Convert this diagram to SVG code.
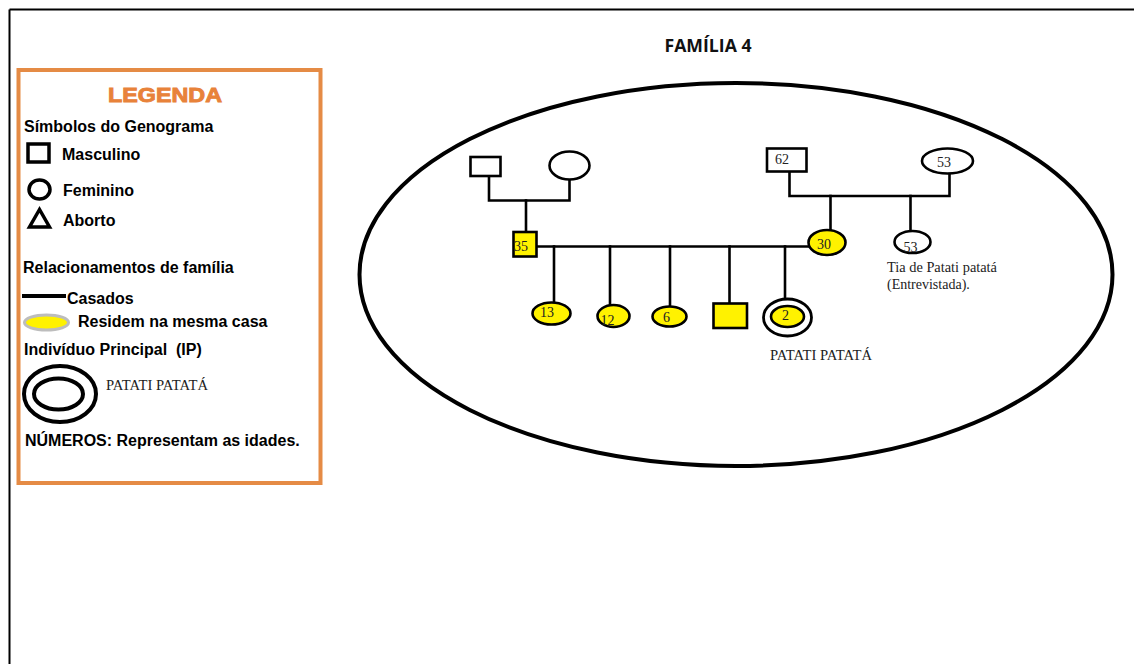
<svg xmlns="http://www.w3.org/2000/svg" width="1134" height="664" viewBox="0 0 1134 664">
  <style>
    .lg { font-family: "Liberation Sans", Arial, sans-serif; font-weight: bold; font-size: 16px; fill: #000; }
    .sf { font-family: "Liberation Serif", "Times New Roman", serif; font-size: 14px; fill: #222; }
    .num { font-family: "Liberation Serif", "Times New Roman", serif; font-size: 14px; fill: #222; }
    .ln { stroke: #000; stroke-width: 2.6; fill: none; stroke-linecap: square; }
    .nd { stroke: #000; stroke-width: 2.6; fill: #fff; }
    .res { stroke: #000; stroke-width: 2.6; fill: #FFF200; }
  </style>

  <rect width="1134" height="664" fill="#fff"/>

  <!-- page frame: top and left edges only -->
  <g id="frame">
    <line x1="9.5" y1="9.5" x2="1134" y2="9.5" stroke="#000" stroke-width="2"/>
    <line x1="9.5" y1="9.5" x2="9.5" y2="664" stroke="#000" stroke-width="2"/>
  </g>

  <!-- legend panel -->
  <g id="legend">
    <rect x="18.5" y="70" width="302" height="413" fill="#fff" stroke="#E58B45" stroke-width="4"/>
    <text x="165" y="102" text-anchor="middle" font-family="'Liberation Sans', Arial, sans-serif" font-weight="900" font-size="20" fill="#E8823A" stroke="#E8823A" stroke-width="0.9" textLength="114" lengthAdjust="spacingAndGlyphs">LEGENDA</text>
    <text class="lg" x="24" y="132">Símbolos do Genograma</text>

    <rect x="28" y="144" width="21" height="18" fill="none" stroke="#000" stroke-width="3.5"/>
    <text class="lg" x="62" y="160">Masculino</text>

    <ellipse cx="39.5" cy="189.5" rx="10.5" ry="9.5" fill="none" stroke="#000" stroke-width="3.5"/>
    <text class="lg" x="63" y="196">Feminino</text>

    <polygon points="39.5,209.5 29.5,227 49.5,227" fill="none" stroke="#000" stroke-width="3.5" stroke-linejoin="miter"/>
    <text class="lg" x="63" y="226">Aborto</text>

    <text class="lg" x="23" y="273">Relacionamentos de família</text>

    <line x1="22" y1="296" x2="66" y2="296" stroke="#000" stroke-width="4"/>
    <text class="lg" x="67" y="304">Casados</text>

    <ellipse cx="46.5" cy="322.5" rx="22" ry="7.5" fill="#FFF200" stroke="#BDBDBD" stroke-width="3"/>
    <text class="lg" x="78" y="327">Residem na mesma casa</text>

    <text class="lg" x="24" y="355" style="white-space:pre">Indivíduo Principal  (IP)</text>

    <ellipse cx="60" cy="394" rx="36" ry="28" fill="none" stroke="#000" stroke-width="4"/>
    <ellipse cx="58.5" cy="394" rx="24.5" ry="15.5" fill="none" stroke="#000" stroke-width="4"/>
    <text class="sf" x="106" y="390" textLength="102" lengthAdjust="spacingAndGlyphs">PATATI PATATÁ</text>

    <text class="lg" x="25" y="446">NÚMEROS: Representam as idades.</text>
  </g>

  <!-- title -->
  <g id="title">
    <text x="708" y="52" text-anchor="middle" font-family="'Open Sans', 'Liberation Sans', sans-serif" font-weight="bold" font-size="17" fill="#111" textLength="87" lengthAdjust="spacingAndGlyphs">FAMÍLIA 4</text>
  </g>

  <!-- household boundary -->
  <g id="household">
    <ellipse cx="736" cy="274.5" rx="376.5" ry="191.5" fill="none" stroke="#000" stroke-width="4"/>
  </g>

  <!-- connectors -->
  <g id="connectors">
    <!-- paternal grandparents -->
    <polyline class="ln" points="489,176 489,200.5 569.5,200.5 569.5,179.5"/>
    <line class="ln" x1="526" y1="200.5" x2="526" y2="231.5"/>
    <!-- maternal grandparents -->
    <polyline class="ln" points="789.5,171.5 789.5,196 949.5,196 949.5,173.5"/>
    <line class="ln" x1="830.5" y1="196" x2="830.5" y2="229.5"/>
    <line class="ln" x1="910.5" y1="196" x2="910.5" y2="230.5"/>
    <!-- parents -->
    <line class="ln" x1="537" y1="246.5" x2="808" y2="246.5"/>
    <!-- children -->
    <line class="ln" x1="554" y1="246.5" x2="554" y2="302.5"/>
    <line class="ln" x1="610" y1="246.5" x2="610" y2="305"/>
    <line class="ln" x1="670" y1="246.5" x2="670" y2="306.5"/>
    <line class="ln" x1="729.5" y1="246.5" x2="729.5" y2="315"/>
    <line class="ln" x1="785" y1="246.5" x2="785" y2="306"/>
  </g>

  <!-- grandparents, father's side -->
  <g id="gf-paternal">
    <rect class="nd" x="470.5" y="157" width="30" height="19"/>
  </g>
  <g id="gm-paternal">
    <ellipse class="nd" cx="569.5" cy="165.5" rx="20" ry="14"/>
  </g>

  <!-- grandparents, mother's side -->
  <g id="gf-maternal">
    <rect class="nd" x="767" y="148.5" width="39.5" height="23"/>
    <text class="num" x="775" y="164">62</text>
  </g>
  <g id="gm-maternal">
    <ellipse class="nd" cx="947.5" cy="161" rx="25.5" ry="12.5"/>
    <text class="num" x="937" y="167">53</text>
  </g>

  <!-- parents -->
  <g id="father">
    <rect class="res" x="513.5" y="232" width="23" height="24.5"/>
    <text class="num" x="514" y="251">35</text>
  </g>
  <g id="mother">
    <ellipse class="res" cx="827" cy="242.5" rx="18.5" ry="12.5"/>
    <text class="num" x="817" y="248.5">30</text>
  </g>

  <!-- aunt -->
  <g id="aunt">
    <ellipse class="nd" cx="912.5" cy="242" rx="18" ry="11"/>
    <text class="num" x="903.5" y="252">53</text>
    <text class="sf" x="887" y="272" font-size="12.5" textLength="110" lengthAdjust="spacingAndGlyphs">Tia de Patati patatá</text>
    <text class="sf" x="887" y="288.5" font-size="12.5">(Entrevistada).</text>
  </g>

  <!-- children -->
  <g id="child-13">
    <ellipse class="res" cx="551.5" cy="313.5" rx="19" ry="11"/>
    <text class="num" x="540" y="317">13</text>
  </g>
  <g id="child-12">
    <ellipse class="res" cx="613.5" cy="316" rx="16" ry="11"/>
    <text class="num" x="600.5" y="325">12</text>
  </g>
  <g id="child-6">
    <ellipse class="res" cx="669.5" cy="316.5" rx="17" ry="10"/>
    <text class="num" x="663" y="322">6</text>
  </g>
  <g id="child-son">
    <rect class="res" x="713.5" y="303.5" width="33.5" height="24.5"/>
  </g>
  <g id="child-ip">
    <ellipse cx="787.5" cy="317.5" rx="24" ry="18.5" fill="#fff" stroke="#000" stroke-width="2.8"/>
    <ellipse class="res" cx="787.5" cy="316.5" rx="16.5" ry="10.5"/>
    <text class="num" x="782" y="320">2</text>
    <text class="sf" x="770" y="360" textLength="102" lengthAdjust="spacingAndGlyphs">PATATI PATATÁ</text>
  </g>
</svg>
